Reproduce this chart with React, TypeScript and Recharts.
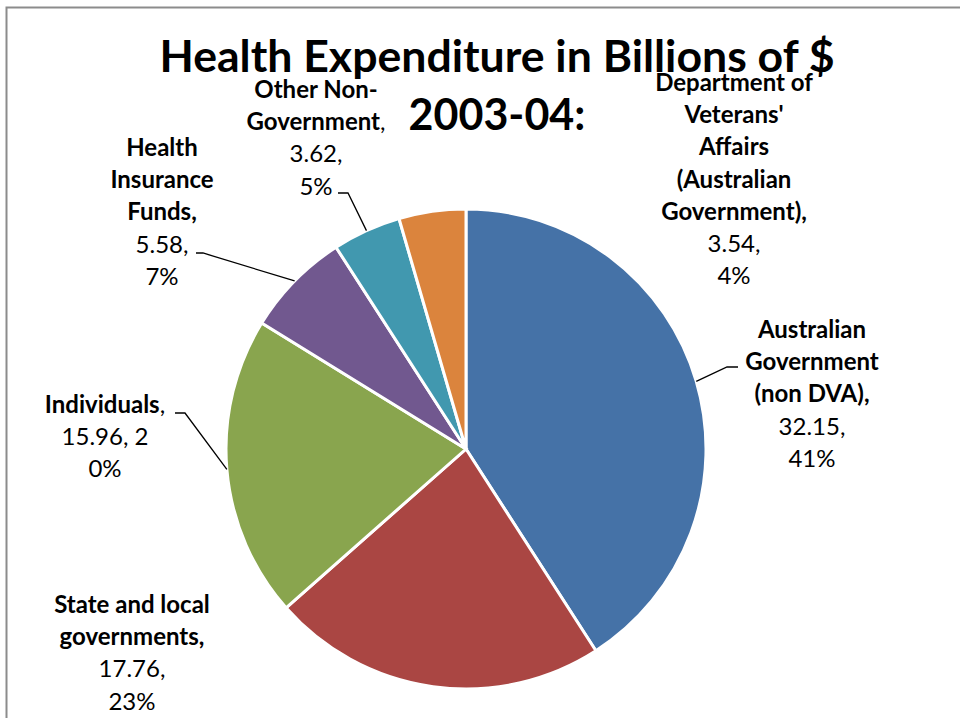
import { Cell, Pie, PieChart } from "recharts";

// Health expenditure by source of funds, 2003-04 ($ billions)
const categories = [
  "Australian Government (non DVA)",
  "State and local governments",
  "Individuals",
  "Health Insurance Funds",
  "Other Non-Government",
  "Department of Veterans' Affairs (Australian Government)",
];
const values = [32.15, 17.76, 15.96, 5.58, 3.62, 3.54];
const percentLabels = ["41%", "23%", "20%", "7%", "5%", "4%"];

// how each data label wraps, as in the original
const labelLines: { text: string; bold: boolean }[][] = [
  [
    { text: "Australian", bold: true },
    { text: "Government", bold: true },
    { text: "(non DVA),", bold: true },
    { text: `${values[0]},`, bold: false },
    { text: percentLabels[0], bold: false },
  ],
  [
    { text: "State and local", bold: true },
    { text: "governments,", bold: true },
    { text: `${values[1]},`, bold: false },
    { text: percentLabels[1], bold: false },
  ],
  [
    { text: "Individuals", bold: true },
    { text: "15.96, 2", bold: false },
    { text: "0%", bold: false },
  ],
  [
    { text: "Health", bold: true },
    { text: "Insurance", bold: true },
    { text: "Funds,", bold: true },
    { text: `${values[3]},`, bold: false },
    { text: percentLabels[3], bold: false },
  ],
  [
    { text: "Other Non-", bold: true },
    { text: "Government", bold: true },
    { text: `${values[4]},`, bold: false },
    { text: percentLabels[4], bold: false },
  ],
  [
    { text: "Department of", bold: true },
    { text: "Veterans'", bold: true },
    { text: "Affairs", bold: true },
    { text: "(Australian", bold: true },
    { text: "Government),", bold: true },
    { text: `${values[5]},`, bold: false },
    { text: percentLabels[5], bold: false },
  ],
];

const COLORS = ["#4572A7", "#AA4643", "#89A54E", "#71588F", "#4198AF", "#DB843D"];
const FONT = "Lato, 'Open Sans', sans-serif";

// label block centre x, first line centre y, line that gets a plain comma, leader elbow
const LAYOUT = [
  { x: 812, y: 330, commaLine: -1, leader: [[738, 367], [727, 367]] },
  { x: 132, y: 605, commaLine: -1, leader: null },
  { x: 105, y: 405, commaLine: 0, leader: [[175, 413], [185, 413]] },
  { x: 162, y: 148, commaLine: -1, leader: [[196, 253], [203, 253]] },
  { x: 316, y: 90, commaLine: 1, leader: [[338, 193], [348, 193]] },
  { x: 734, y: 83, commaLine: -1, leader: null },
];
const LINE_H = 32.2;
const RADIAN = Math.PI / 180;

const data = categories.map((name, i) => ({ name, value: values[i] }));

function renderLabel(props: any) {
  const { cx, cy, midAngle, outerRadius, index } = props;
  const lay = LAYOUT[index];
  const lines = labelLines[index];
  const ex = cx + outerRadius * Math.cos(-midAngle * RADIAN);
  const ey = cy + outerRadius * Math.sin(-midAngle * RADIAN);
  return (
    <g key={`lbl-${index}`}>
      {lay.leader && (
        <polyline
          points={[...lay.leader, [ex, ey]].map((p) => p.join(",")).join(" ")}
          fill="none"
          stroke="#000"
          strokeWidth={1.3}
        />
      )}
      {lines.map((l, j) => (
        <text
          key={j}
          x={lay.x}
          y={lay.y + j * LINE_H + 8}
          textAnchor="middle"
          fontFamily={FONT}
          fontSize={24}
          fontWeight={l.bold ? 700 : 400}
          fill="#000"
        >
          {l.text}
          {j === lay.commaLine ? <tspan fontWeight={400}>,</tspan> : null}
        </text>
      ))}
    </g>
  );
}

export default function App() {
  return (
    <div style={{ position: "absolute", left: 0, top: 0, width: 960, height: 718, background: "#fff" }}>
      <PieChart width={960} height={718} margin={{ top: 0, right: 0, bottom: 0, left: 0 }}>
        <Pie
          data={data}
          dataKey="value"
          nameKey="name"
          cx={466}
          cy={449}
          outerRadius={240}
          startAngle={90}
          endAngle={-270}
          stroke="#fff"
          strokeWidth={3}
          label={renderLabel}
          labelLine={false}
          isAnimationActive={false}
        >
          {data.map((d, i) => (
            <Cell key={d.name} fill={COLORS[i]} />
          ))}
        </Pie>
      </PieChart>
      <svg
        width={960}
        height={718}
        style={{ position: "absolute", left: 0, top: 0, pointerEvents: "none" }}
      >
        <polyline points="6.5,718 6.5,7.5 960,7.5" fill="none" stroke="#8c8c8c" strokeWidth={2} />
        <text
          x={497}
          y={72}
          textAnchor="middle"
          fontFamily={FONT}
          fontSize={43}
          fontWeight={700}
          textLength={675}
          lengthAdjust="spacingAndGlyphs"
        >
          Health Expenditure in Billions of $
        </text>
        <text x={497} y={130} textAnchor="middle" fontFamily={FONT} fontSize={43} fontWeight={700}>
          2003-04:
        </text>
      </svg>
    </div>
  );
}
